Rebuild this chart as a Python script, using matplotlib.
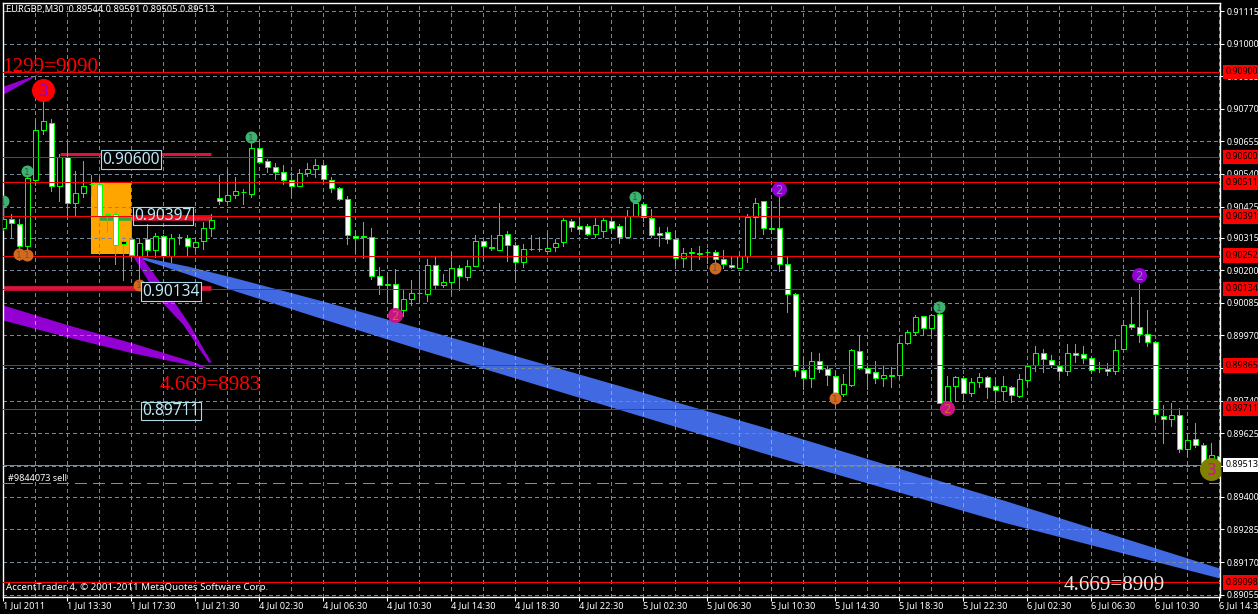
import numpy as np
import matplotlib
matplotlib.use('Agg')
import matplotlib.pyplot as plt

plt.rcParams['font.family'] = ['Noto Sans', 'DejaVu Sans']

W, H = 1258, 614

# EURGBP M30, precios en 1e-5
opens = [90349, 90382, 90364, 90285, 90518, 90696, 90721, 90497, 90600, 90439,
         90471, 90506, 90506, 90397, 90400, 90294, 90309, 90249, 90309, 90272,
         90322, 90250, 90318, 90315, 90282, 90303, 90350, 90456, 90445, 90466,
         90478, 90470, 90633, 90586, 90563, 90547, 90519, 90498, 90544, 90556,
         90570, 90519, 90492, 90452, 90322, 90321, 90318, 90180, 90151, 90152,
         90061, 90097, 90120, 90116, 90217, 90147, 90158, 90208, 90175, 90214,
         90304, 90281, 90273, 90329, 90290, 90228, 90276, 90276, 90267, 90281,
         90299, 90375, 90356, 90357, 90327, 90338, 90375, 90357, 90317, 90391,
         90435, 90385, 90332, 90336, 90311, 90244, 90263, 90260, 90266, 90265,
         90240, 90219, 90207, 90250, 90388, 90445, 90349, 90350, 90223, 90117,
         89849, 89820, 89879, 89851, 89826, 89762, 89795, 89915, 89854, 89841,
         89820, 89830, 89830, 89944, 89983, 90038, 89995, 90046, 89734, 89790,
         89820, 89767, 89804, 89822, 89790, 89774, 89788, 89757, 89813, 89865,
         89908, 89882, 89863, 89843, 89908, 89905, 89889, 89856, 89852, 89843,
         89921, 90011, 90000, 89975, 89946, 89686, 89674, 89689, 89569, 89604,
         89583, 89527, 89544]
highs = [90429, 90400, 90382, 90535, 90729, 90795, 90735, 90612, 90653, 90550,
         90585, 90535, 90530, 90403, 90406, 90320, 90394, 90311, 90362, 90333,
         90325, 90329, 90329, 90325, 90315, 90370, 90400, 90535, 90553, 90530,
         90488, 90665, 90659, 90594, 90577, 90571, 90547, 90559, 90577, 90594,
         90579, 90530, 90495, 90461, 90341, 90370, 90350, 90211, 90193, 90205,
         90129, 90167, 90199, 90240, 90252, 90187, 90264, 90217, 90237, 90326,
         90311, 90323, 90438, 90337, 90299, 90291, 90323, 90319, 90332, 90311,
         90385, 90382, 90390, 90364, 90385, 90385, 90382, 90364, 90411, 90458,
         90437, 90417, 90354, 90354, 90338, 90277, 90277, 90284, 90276, 90270,
         90270, 90246, 90256, 90399, 90456, 90446, 90446, 90458, 90252, 90119,
         89895, 89913, 89909, 89862, 89840, 89834, 89923, 89973, 89863, 89878,
         89863, 89860, 89958, 89990, 90043, 90040, 90046, 90082, 89825, 89828,
         89825, 89820, 89836, 89828, 89810, 89828, 89793, 89834, 89863, 89934,
         89922, 89902, 89879, 89938, 89938, 89931, 89899, 89875, 89873, 89958,
         90026, 90105, 90152, 90058, 89950, 89726, 89731, 89714, 89622, 89661,
         89592, 89590, 89591]
lows = [90341, 90317, 90235, 90246, 90500, 90682, 90479, 90443, 90394, 90394,
        90459, 90467, 90376, 90335, 90223, 90164, 90246, 90152, 90252, 90246,
        90246, 90229, 90294, 90252, 90268, 90276, 90321, 90433, 90438, 90454,
        90433, 90459, 90577, 90547, 90521, 90506, 90459, 90498, 90532, 90530,
        90512, 90476, 90447, 90291, 90263, 90243, 90168, 90117, 90093, 90034,
        90040, 90079, 90093, 90093, 90134, 90140, 90117, 90131, 90167, 90214,
        90240, 90272, 90270, 90234, 90169, 90213, 90270, 90267, 90267, 90267,
        90287, 90337, 90329, 90323, 90317, 90319, 90331, 90296, 90317, 90390,
        90373, 90319, 90287, 90296, 90220, 90211, 90206, 90241, 90225, 90193,
        90207, 90207, 90207, 90228, 90319, 90329, 90331, 90199, 90052, 89825,
        89781, 89789, 89840, 89796, 89728, 89757, 89793, 89852, 89781, 89801,
        89793, 89789, 89820, 89938, 89970, 89970, 89972, 89731, 89731, 89740,
        89737, 89755, 89789, 89748, 89731, 89743, 89734, 89751, 89799, 89843,
        89840, 89858, 89822, 89832, 89875, 89872, 89836, 89840, 89830, 89834,
        89920, 89993, 89948, 89932, 89675, 89589, 89649, 89560, 89545, 89575,
        89510, 89504, 89505]
closes = [90382, 90368, 90285, 90524, 90696, 90726, 90497, 90600, 90439, 90471,
          90497, 90503, 90392, 90394, 90290, 90303, 90255, 90297, 90272, 90322,
          90250, 90315, 90316, 90285, 90301, 90350, 90376, 90445, 90467, 90481,
          90476, 90633, 90582, 90563, 90547, 90518, 90499, 90545, 90556, 90570,
          90523, 90492, 90452, 90324, 90315, 90319, 90179, 90149, 90149, 90060,
          90097, 90118, 90118, 90217, 90148, 90159, 90208, 90179, 90215, 90305,
          90285, 90279, 90325, 90288, 90228, 90276, 90274, 90274, 90279, 90297,
          90376, 90352, 90345, 90327, 90360, 90376, 90349, 90317, 90391, 90437,
          90388, 90324, 90324, 90310, 90244, 90261, 90261, 90258, 90265, 90240,
          90221, 90211, 90250, 90388, 90438, 90350, 90347, 90223, 90117, 89849,
          89820, 89880, 89853, 89832, 89761, 89797, 89917, 89855, 89838, 89820,
          89829, 89828, 89944, 89983, 90034, 89997, 90043, 89731, 89790, 89823,
          89766, 89804, 89823, 89788, 89777, 89790, 89760, 89816, 89861, 89908,
          89886, 89867, 89845, 89908, 89901, 89891, 89848, 89854, 89845, 89919,
          90007, 89999, 89975, 89946, 89693, 89674, 89689, 89569, 89601, 89583,
          89518, 89547, 89513]

bid = 0.89513
order_price = 0.89449
order_label = '#9844073 sell'
header = 'EURGBP,M30  0.89544 0.89591 0.89505 0.89513'
footer = 'AccentTrader 4, © 2001-2011 MetaQuotes Software Corp.'

price_ticks = [0.91115, 0.91000, 0.90885, 0.90770, 0.90655, 0.90540, 0.90425, 0.90315, 0.90200, 0.90085,
               0.89970, 0.89855, 0.89740, 0.89625, 0.89510, 0.89400, 0.89285, 0.89170, 0.89055]
time_labels = ['1 Jul 2011', '1 Jul 13:30', '1 Jul 17:30', '1 Jul 21:30', '4 Jul 02:30', '4 Jul 06:30',
               '4 Jul 10:30', '4 Jul 14:30', '4 Jul 18:30', '4 Jul 22:30', '5 Jul 02:30', '5 Jul 06:30',
               '5 Jul 10:30', '5 Jul 14:30', '5 Jul 18:30', '5 Jul 22:30', '6 Jul 02:30', '6 Jul 06:30',
               '6 Jul 10:30', '6 Jul 14:30']
levels = [0.90900, 0.90600, 0.90511, 0.90391, 0.90252, 0.90134, 0.89865, 0.89711, 0.89098]

# bandas (indice de barra, precio)
blue_bars = [16.2, 23, 29, 40, 52, 95, 125, 152]
blue_top = [90254, 90215, 90173, 90091, 89996, 89647, 89389, 89149]
blue_bottom = [90250, 90187, 90127, 90028, 89922, 89555, 89311, 89114]
purple_a_bars = [0, 4.6]
purple_a_top = [90850, 90896]
purple_a_bottom = [90822, 90896]
purple_b_bars = [0, 8.1, 16.2, 24.2, 25.8]
purple_b_top = [90077, 90007, 89943, 89873, 89851]
purple_b_bottom = [90024, 89964, 89908, 89862, 89851]
purple_c_prices = [90254, 90095, 90007, 89918, 89876]
purple_c_left = [16.1, 19.6, 22.5, 24.6, 25.6]
purple_c_right = [17.1, 21.2, 23.3, 25.1, 26]

# marcadores: barra, precio
green_bars = [0, 3, 31, 79, 117]
green_prices = [90444, 90550, 90670, 90459, 90070]
orange_bars = [2, 3, 17, 89, 104]
orange_prices = [90257, 90254, 90148, 90208, 89749]
magenta_bars = [49, 118]
magenta_prices = [90042, 89714]
violet_bars = [97, 142]
violet_prices = [90487, 90183]

boxes = [(16, 90598, '0.90600', True), (20, 90399, '0.90397', False),
         (21, 90132, '0.90134', True), (21, 89710, '0.89711', False)]


def price(v):
    return np.asarray(v) / 1e5


def main():
    fig = plt.figure(figsize=(W / 100, H / 100), dpi=100, facecolor='black')
    ax = fig.add_axes([2.5 / W, 1 - 596.5 / H, 1217.5 / W, 594 / H], facecolor='black')
    ax.set_xlim(-0.1, 152.1)
    ax.set_ylim(0.890484, 0.911452)

    n = len(opens)
    x = np.arange(n)
    o, h, l, c = price(opens), price(highs), price(lows), price(closes)

    # cajas y bandas
    ax.fill_between([11, 16], 0.90257, 0.90507, color='#FFA500', lw=0, zorder=1)
    blue = ax.fill_between(blue_bars, price(blue_top), price(blue_bottom), color='#4169E1', lw=0, zorder=1)
    purple = [
        ax.fill_between(purple_a_bars, price(purple_a_top), price(purple_a_bottom), color='#9400D3', lw=0, zorder=1),
        ax.fill_between(purple_b_bars, price(purple_b_top), price(purple_b_bottom), color='#9400D3', lw=0, zorder=1),
        ax.fill_betweenx(price(purple_c_prices), purple_c_left, purple_c_right, color='#9400D3', lw=0, zorder=1),
    ]

    # rejilla
    grid_x = np.arange(0, 153, 4)
    dash = (0, (3, 3))
    ax.hlines(price_ticks, -0.1, 152.1, color='#778899', lw=0.72, linestyles=[dash], zorder=2, antialiased=False)
    ax.vlines(grid_x, 0.890484, 0.911452, color='#778899', lw=0.72, linestyles=[dash], zorder=2, antialiased=False)

    # la rejilla cambia de color encima de las bandas
    vb = ax.vlines(grid_x, 0.890484, 0.911452, color='#3CDC78', lw=0.72, linestyles=[dash], zorder=2.1, antialiased=False)
    vb.set_clip_path(blue.get_paths()[0], transform=ax.transData)
    vp = ax.vlines(grid_x, 0.890484, 0.911452, color='#E0A040', lw=0.72, linestyles=[dash], zorder=2.1, antialiased=False)
    vp.set_clip_path(purple[1].get_paths()[0], transform=ax.transData)

    # lineas gruesas
    ax.hlines(0.90609, 7.1, 26, color='#DC143C', lw=2.2, zorder=2.5)
    ax.hlines(0.90384, 16, 26, color='#DC143C', lw=4, zorder=2.5)
    ax.hlines(0.90383, 12, 16, color='#32A83C', lw=3.3, zorder=2.5)
    ax.hlines(0.90139, 0, 26, color='#DC143C', lw=3.4, zorder=2.5)

    # velas
    ax.vlines(x, l, h, color='#00FF00', lw=0.72, zorder=3, antialiased=False)
    body_colors = ['white' if c[i] < o[i] else 'black' for i in range(n)]
    ax.bar(x, np.abs(c - o), bottom=np.minimum(o, c), width=0.62, color=body_colors,
           edgecolor='#00FF00', linewidth=0.72, zorder=3.5)

    # niveles
    ax.hlines(levels, -0.1, 152.1, color='#FF0000', lw=0.72, zorder=4, antialiased=False)
    ax.hlines(bid, -0.1, 152.1, color='#778899', lw=0.72, zorder=4, antialiased=False)
    ax.hlines(order_price, -0.1, 152.1, color='#32CD32', lw=0.72, linestyles=[(0, (11, 6))], zorder=4, antialiased=False)

    # marcadores
    def circles(bars, prices, face, digit, dcolor, diam, fs):
        ax.scatter(bars, price(prices), s=(diam * 0.72) ** 2, color=face, linewidths=0, zorder=5)
        for b, p in zip(bars, price(prices)):
            ax.text(b, p, digit, color=dcolor, fontsize=fs, ha='center', va='center_baseline',
                    zorder=6, clip_on=True, family='DejaVu Sans')

    circles(green_bars, green_prices, '#3CB371', '1', '#2F5A40', 12, 6.5)
    circles(orange_bars, orange_prices, '#D2691E', '1', '#6E5A30', 12, 6.5)
    circles(magenta_bars, magenta_prices, '#C71585', '2', '#D2691E', 15, 8.5)
    circles(violet_bars, violet_prices, '#9400D3', '2', '#3CB371', 15, 8.5)
    circles([5], [90836], '#FF0000', '3', '#9400D3', 23, 11)
    circles([151], [89498], '#808000', '3', '#C71585', 23, 11)

    # etiquetas con caja
    for b, p, txt, filled in boxes:
        ax.text(b, p / 1e5, txt, color='#BFE8F5', fontsize=11.2, ha='center', va='center_baseline',
                zorder=7, bbox=dict(boxstyle='square,pad=0.08', fc='black' if filled else 'none', ec='#ADD8E6', lw=0.8))

    # textos grandes
    ax.text(-0.1, 0.90899, '1299=9090', color='#FF0000', fontsize=15.3, family='Liberation Serif',
            va='baseline', ha='left', zorder=7, clip_on=True)
    ax.text(19.6, 0.89777, '4.669=8983', color='#FF0000', fontsize=15.3, family='Liberation Serif',
            va='baseline', ha='left', zorder=7)
    ax.text(132.5, 0.89071, '4.669=8909', color='#E6E6E6', fontsize=15.3, family='Liberation Serif',
            va='baseline', ha='left', zorder=7)

    ax.text(0.4, 0.91119, header, color='white', fontsize=6.7, va='center', ha='left', zorder=7)
    ax.text(0.6, order_price + 0.00016, order_label, color='white', fontsize=6.5, va='center', ha='left', zorder=7)
    ax.text(0.4, 0.89080, footer, color='white', fontsize=7, va='center', ha='left', zorder=7)

    # ejes
    for s in ax.spines.values():
        s.set_color('white')
        s.set_linewidth(1)
    ax.yaxis.tick_right()
    ax.set_yticks(price_ticks)
    ax.set_yticklabels([f'{p:.5f}' for p in price_ticks])
    ax.set_xticks(np.arange(0, 153, 8))
    ax.set_xticklabels(time_labels)
    ax.tick_params(axis='x', colors='white', length=3, width=0.75, labelsize=6.6, pad=0.5)
    ax.tick_params(axis='y', colors='white', length=3, width=0.75, labelsize=6.4, pad=1.5)
    for t in ax.get_xticklabels():
        t.set_ha('left')

    # etiquetas de precio a la derecha
    right = ax.get_yaxis_transform()
    lab_x = (1226 - 2.5) / 1217.5
    for lv in levels:
        ax.text(lab_x, lv, f'{lv:.5f}', transform=right, color='black', fontsize=6.4, va='center', ha='left',
                zorder=8, bbox=dict(boxstyle='square,pad=0.32', fc='#FF0000', ec='none'))
    ax.text(lab_x, bid, f'{bid:.5f}', transform=right, color='black', fontsize=6.4, va='center', ha='left',
            zorder=8, bbox=dict(boxstyle='square,pad=0.32', fc='white', ec='none'))

    fig.savefig('out.png', dpi=100, facecolor='black')
    plt.close(fig)


if __name__ == "__main__":
    main()
